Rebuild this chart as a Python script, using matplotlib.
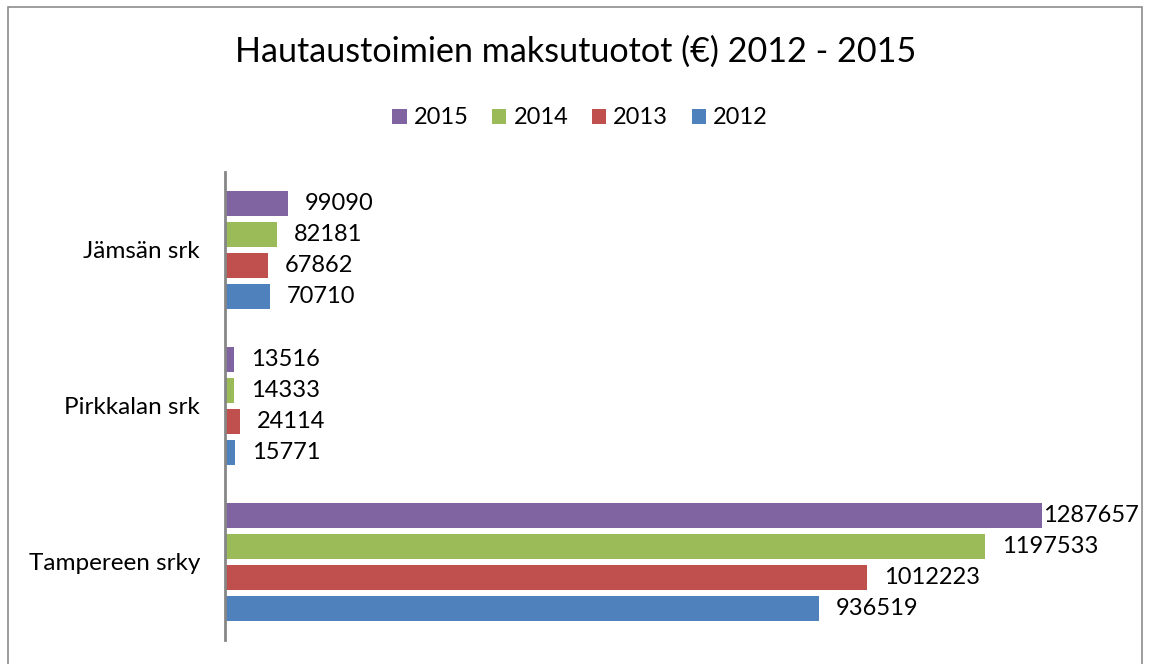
import matplotlib.pyplot as plt
from matplotlib.patches import Rectangle
import numpy as np

plt.rcParams['font.family'] = ['Lato', 'DejaVu Sans']

# Data (top group first as drawn)
categories = ["Jämsän srk", "Pirkkalan srk", "Tampereen srky"]
years = ["2015", "2014", "2013", "2012"]
v2015 = [99090, 13516, 1287657]
v2014 = [82181, 14333, 1197533]
v2013 = [67862, 24114, 1012223]
v2012 = [70710, 15771, 936519]
series = [v2015, v2014, v2013, v2012]
colors = ["#8064A2", "#9BBB59", "#C0504D", "#4F81BD"]

W, H = 1150, 664
fig = plt.figure(figsize=(W / 100, H / 100), dpi=100)

# outer chart frame (bottom edge cut off in the original)
fig.add_artist(Rectangle((8 / W, -0.05), (1142 - 8) / W, 1.05 - 7 / H,
                         transform=fig.transFigure, fill=False,
                         edgecolor="#8c8c8c", linewidth=1.2))

ax = fig.add_axes([225 / W, 1 - 640 / H, 888 / W, 468 / H])

xmax = 1400000
slot = 0.2
bh = 0.16
y_centers = np.arange(len(categories))[::-1]  # Jämsän at top
for i, (vals, col, yr) in enumerate(zip(series, colors, years)):
    ys = y_centers + (1.5 - i) * slot
    ax.barh(ys, vals, height=bh, color=col, label=yr)
    for y, v in zip(ys, vals):
        # offset of ~17 px, unless it would run past the frame
        off = 17 * xmax / 888
        x = v + off
        if (225 + (v + off) / xmax * 888) + 95 > 1140:
            x = v + 1 * xmax / 888
        ax.text(x, y, str(v), va="center", ha="left", fontsize=17)

ax.set_xlim(0, xmax)
ax.set_ylim(-0.5, len(categories) - 0.5)
ax.set_yticks(y_centers)
ax.set_yticklabels(categories, fontsize=17.5)
ax.tick_params(axis="y", length=0, pad=18)
ax.set_xticks([])
for s in ["top", "right", "bottom"]:
    ax.spines[s].set_visible(False)
ax.spines["left"].set_color("#868686")
ax.spines["left"].set_linewidth(2)

fig.text(576 / W, 1 - 52 / H, "Hautaustoimien maksutuotot (€) 2012 - 2015",
         ha="center", va="center", fontsize=24.6)

handles, labels = ax.get_legend_handles_labels()
fig.legend(handles, labels, loc="center", bbox_to_anchor=(580 / W, 1 - 118 / H),
           ncol=4, frameon=False, fontsize=17, handlelength=0.6, handleheight=0.6,
           handletextpad=0.3, columnspacing=1.0)

fig.savefig("out.png", dpi=100)
